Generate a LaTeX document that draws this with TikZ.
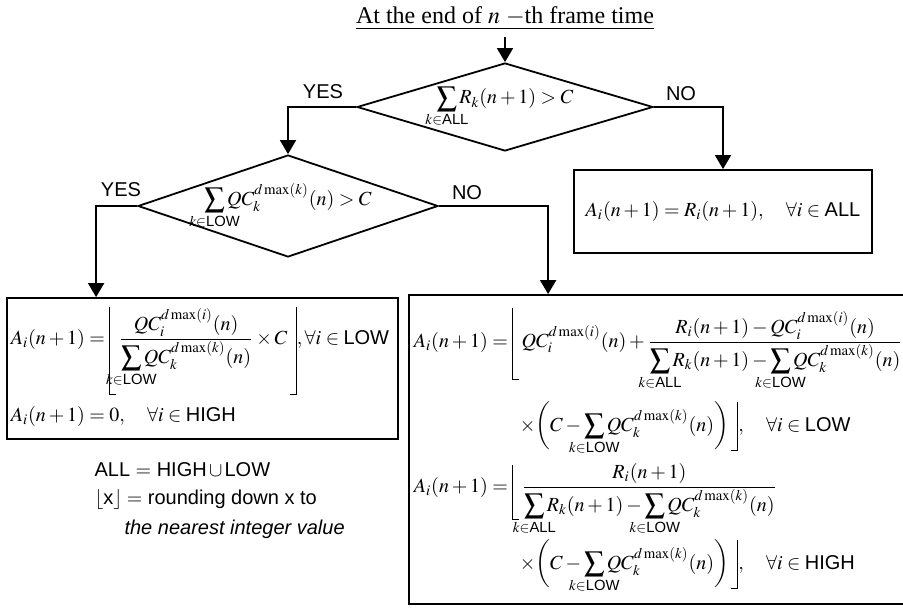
\documentclass[tikz,border=0pt]{standalone}
\usepackage{mathptmx}
\usepackage{amsmath,mathtools}
\usepackage[no-math]{fontspec}
\setmainfont{Liberation Serif}
\setsansfont{Liberation Sans}
\usetikzlibrary{arrows.meta,shapes.geometric}
\newcommand\grp[1]{\textsf{#1}}
\newcommand\qc[1]{QC_{#1}^{d\max(#1)}(n)}
\newcommand\sumk[1]{\sum\limits_{\mathclap{k\in\grp{#1}}}}
% floor brackets of given height and depth
\newcommand\flo[2]{\mathopen{\rule[-#2]{.6pt}{\dimexpr#1+#2\relax}\rule[-#2]{3pt}{.6pt}}\,}
\newcommand\flc[2]{\,\mathclose{\rule[-#2]{3pt}{.6pt}\rule[-#2]{.6pt}{\dimexpr#1+#2\relax}}}

\begin{document}
\begin{tikzpicture}[x=.5pt,y=-.5pt,>={Triangle[width=8pt,length=7pt]},line width=.9pt,
 decision/.style={draw,diamond,inner sep=0pt},
 result/.style={draw,rectangle,inner sep=0pt},
 answer/.style={font=\sffamily},
 formula/.style={inner sep=0pt,anchor=base west}]
\useasboundingbox(0,0)rectangle(903,615);
% start and the two tests
\node(start)at(505,18){\fontsize{12}{14}\selectfont\underline{At the end of $n$ $-$th frame time}};
\node[decision,minimum width=148pt,minimum height=44pt,
 label={center:$\displaystyle\sumk{ALL}R_k(n+1)>C$}](d1)at(505,107){};
\node[decision,minimum width=150pt,minimum height=51pt,
 label={center:$\displaystyle\sumk{LOW}\qc{k}>C$}](d2)at(288,206){};
\node[answer](yes1)at(323,92){YES};
\node[answer](no1)at(681,94){NO};
\node[answer](yes2)at(121,190){YES};
\node[answer](no2)at(467,193){NO};
% outcomes
\node[result,minimum width=149pt,minimum height=41.5pt](b1)at(723,211.5){$A_i(n+1)=R_i(n+1),\quad\forall i\in\grp{ALL}$};
\node[result,minimum width=195.5pt,minimum height=70.5pt](b2)at(202.5,368.5){};
\node[formula](b2a)at(10,344){$A_i(n+1)=\flo{18.5pt}{25.5pt}\dfrac{\qc{i}}{\displaystyle\sumk{LOW}\qc{k}}\times C\flc{18.5pt}{25.5pt},\forall i\in\grp{LOW}$};
\node[formula](b2b)at(10,421){$A_i(n+1)=0,\quad\forall i\in\grp{HIGH}$};
\node[result,minimum width=253pt,minimum height=154.5pt](b3)at(662,449.5){};
\node[formula](b3a)at(413,347){$\displaystyle A_i(n+1)=\flo{19.5pt}{16.5pt}\qc{i}+\frac{R_i(n+1)-\qc{i}}{\displaystyle\sumk{ALL}R_k(n+1)-\sumk{LOW}\qc{k}}$};
\node[formula](b3b)at(519,431){$\displaystyle\times\biggl(C-\sumk{LOW}\qc{k}\biggr)\flc{14.5pt}{10pt},\quad\forall i\in\grp{LOW}$};
\node[formula](b3c)at(413,492){$\displaystyle A_i(n+1)=\flo{13.5pt}{14pt}\frac{R_i(n+1)}{\displaystyle\sumk{ALL}R_k(n+1)-\sumk{LOW}\qc{k}}$};
\node[formula](b3d)at(519,569){$\displaystyle\times\biggl(C-\sumk{LOW}\qc{k}\biggr)\flc{14.5pt}{10pt},\quad\forall i\in\grp{HIGH}$};
% notes
\node[answer,anchor=west](setall)at(87,470){ALL $=$ HIGH$\,\cup\,$LOW};
\node[answer,anchor=west](floordef)at(87,500){$\lfloor$x$\rfloor=$ rounding down x to};
\node[answer,anchor=west,font=\sffamily\itshape](floorrest)at(117,529){the nearest integer value};
% connectors
\draw[->](start)--(d1);
\draw[->](d1.west)-|(d2.north);
\draw[->](d1.east)-|(b1.north);
\draw[->](d2.west)-|([xshift=45pt]b2.north west);
\draw[->](d2.east)-|([xshift=70pt]b3.north west);
\end{tikzpicture}
\end{document}
